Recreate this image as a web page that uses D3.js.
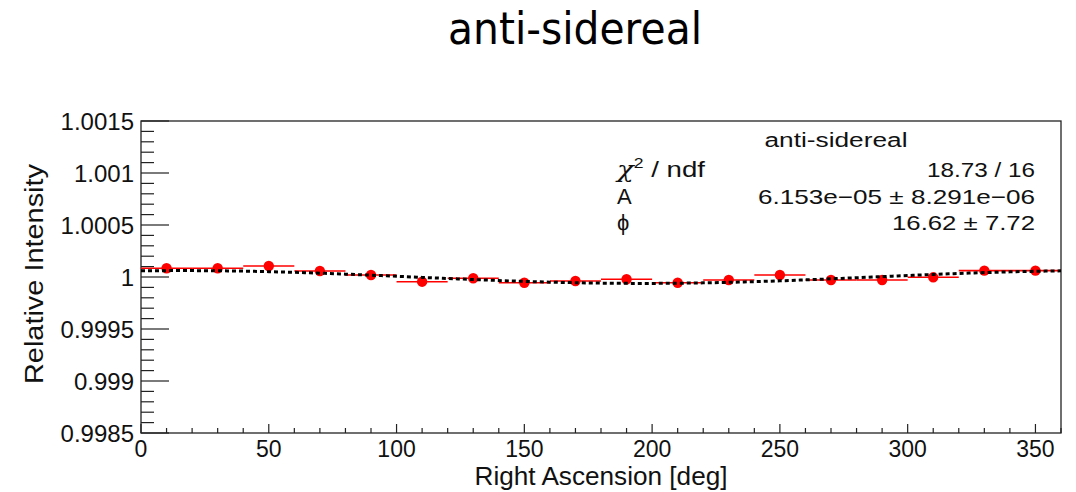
<!DOCTYPE html>
<html>
<head>
<meta charset="utf-8">
<script src="https://cdn.jsdelivr.net/npm/d3@7"></script>
<style>
  html, body { margin: 0; padding: 0; background: #fff; }
  svg { display: block; }
  text { font-family: "Liberation Sans", Arial, Helvetica, sans-serif; fill: #111; }
</style>
</head>
<body>
<svg id="chart" width="1076" height="492"></svg>
<script>
// ---- data ----
const chartTitle = "anti-sidereal";
const raBins = [10, 30, 50, 70, 90, 110, 130, 150, 170, 190, 210, 230, 250, 270, 290, 310, 330, 350];
const intensity = [1.000084, 1.000084, 1.000106, 1.000058, 1.000019, 0.999955, 0.999988, 0.999945, 0.999962,
                   0.999978, 0.999945, 0.999971, 1.000019, 0.999971, 0.999971, 0.999997, 1.000061, 1.000061];
const binHalfWidth = 10;
const xTicks = [0, 50, 100, 150, 200, 250, 300, 350];
const yTicks = [0.9985, 0.999, 0.9995, 1, 1.0005, 1.001, 1.0015];
const yTickLabels = ["0.9985", "0.999", "0.9995", "1", "1.0005", "1.001", "1.0015"];
const fitAmplitude = 6.153e-05;
const fitPhase = 16.62;
const statsTitle = "anti-sidereal";
const statsLabels = ["χ² / ndf", "A", "\u03d5"];
const statsValues = ["18.73 / 16", "6.153e\u221205 \u00b1 8.291e\u221206", "16.62 \u00b1 7.72"];

// ---- layout ----
const svg = d3.select("#chart");
const L = 141, R = 1061, T = 121, B = 433;
const x = d3.scaleLinear().domain([0, 360]).range([L, R]);
const y = d3.scaleLinear().domain([0.9985, 1.0015]).range([B, T]);

// title
svg.append("text")
  .attr("x", 575).attr("y", 44)
  .attr("text-anchor", "middle")
  .attr("textLength", 254).attr("lengthAdjust", "spacingAndGlyphs")
  .style("font-family", "'DejaVu Sans', sans-serif")
  .style("font-size", "45px")
  .style("fill", "#000")
  .text(chartTitle);

// frame
svg.append("rect")
  .attr("x", L).attr("y", T).attr("width", R - L).attr("height", B - T)
  .attr("fill", "none").attr("stroke", "#222").attr("stroke-width", 1.3);

// x axis ticks
const xMinor = d3.range(0, 361, 10);
svg.append("g").selectAll("line").data(xMinor).join("line")
  .attr("x1", d => x(d)).attr("x2", d => x(d))
  .attr("y1", B).attr("y2", d => B - (d % 50 === 0 ? 9 : 5))
  .attr("stroke", "#222").attr("stroke-width", 1.2);
svg.append("g").selectAll("text").data(xTicks).join("text")
  .attr("x", d => x(d)).attr("y", 457)
  .attr("text-anchor", "middle")
  .style("font-size", "23px")
  .text(d => d);

// y axis ticks
const yMinor = d3.range(0, 31).map(i => 0.9985 + i * 0.0001);
svg.append("g").selectAll("line").data(yMinor).join("line")
  .attr("y1", d => y(d)).attr("y2", d => y(d))
  .attr("x1", L).attr("x2", (d, i) => L + (i % 5 === 0 ? 28 : 13))
  .attr("stroke", "#222").attr("stroke-width", 1.2);
svg.append("g").selectAll("text").data(yTicks).join("text")
  .attr("x", 134).attr("y", d => y(d) + 8.5)
  .attr("text-anchor", "end")
  .style("font-size", "24px")
  .text((d, i) => yTickLabels[i]);

// axis titles
svg.append("text")
  .attr("x", (L + R) / 2).attr("y", 485)
  .attr("text-anchor", "middle")
  .attr("textLength", 253).attr("lengthAdjust", "spacingAndGlyphs")
  .style("font-size", "25px")
  .text("Right Ascension [deg]");
svg.append("text")
  .attr("transform", "translate(43,274) rotate(-90)")
  .attr("text-anchor", "middle")
  .attr("textLength", 220).attr("lengthAdjust", "spacingAndGlyphs")
  .style("font-size", "25px")
  .text("Relative Intensity");

// data: horizontal error bars + markers
const pts = raBins.map((d, i) => ({ ra: d, v: intensity[i] }));
svg.append("g").selectAll("line").data(pts).join("line")
  .attr("x1", d => x(d.ra - binHalfWidth)).attr("x2", d => x(d.ra + binHalfWidth))
  .attr("y1", d => y(d.v)).attr("y2", d => y(d.v))
  .attr("stroke", "#ff0000").attr("stroke-width", 1.6);
svg.append("g").selectAll("circle").data(pts).join("circle")
  .attr("cx", d => x(d.ra)).attr("cy", d => y(d.v)).attr("r", 5.2)
  .attr("fill", "#ff0000");

// fit function drawn from the fit parameters
const fitX = d3.range(0, 360.01, 2);
const fitLine = d3.line()
  .x(d => x(d))
  .y(d => y(1 + fitAmplitude * Math.cos((d - fitPhase) * Math.PI / 180)));
svg.append("path")
  .datum(fitX)
  .attr("d", fitLine)
  .attr("fill", "none")
  .attr("stroke", "#000")
  .attr("stroke-width", 3)
  .attr("stroke-dasharray", "4,3");

// stats box
svg.append("text")
  .attr("x", 836).attr("y", 147)
  .attr("text-anchor", "middle")
  .attr("textLength", 143).attr("lengthAdjust", "spacingAndGlyphs")
  .style("font-size", "20px")
  .text(statsTitle);
const rowY = [177, 204, 230];
const valueLen = [108, 277, 143];
statsLabels.forEach((s, i) => {
  const t = svg.append("text")
    .attr("x", 617).attr("y", rowY[i])
    .style("font-size", "22px");
  if (i === 0) {
    t.attr("textLength", 88).attr("lengthAdjust", "spacingAndGlyphs");
    t.append("tspan").style("font-family", "'DejaVu Serif', serif").style("font-style", "italic")
      .style("font-size", "22px").text("χ");
    t.append("tspan").attr("dy", -9).style("font-size", "14px").text("2");
    t.append("tspan").attr("dy", 9).text(" / ndf");
  } else {
    t.text(s);
  }
  svg.append("text")
    .attr("x", 1035).attr("y", rowY[i])
    .attr("text-anchor", "end")
    .attr("textLength", valueLen[i]).attr("lengthAdjust", "spacingAndGlyphs")
    .style("font-size", "21px")
    .text(statsValues[i]);
});
</script>
</body>
</html>
